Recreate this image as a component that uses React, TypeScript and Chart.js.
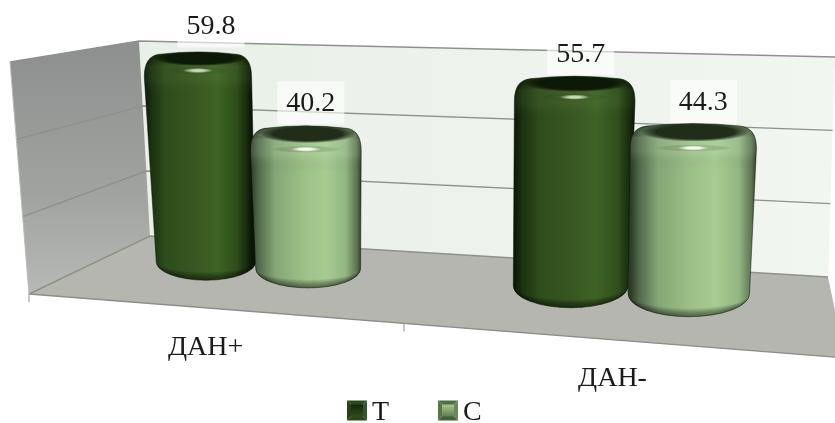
import React, { useEffect, useRef } from "react";
import { Chart, registerables } from "chart.js";

Chart.register(...registerables);

// Chart values
const categories = ["ДАН+", "ДАН-"];
const seriesNames = ["T", "C"];
const seriesT = [59.8, 55.7];
const seriesC = [40.2, 44.3];
const axisMax = 60;
const axisStep = 20;

// Box of the 3D scene on screen: floor and ceiling corners
const floorQuad = [[29, 294], [845, 358], [828, 277], [150, 236]];
const ceilingQuad = [[10, 62], [855, 86], [835, 57], [139, 41]];

// Where the cylinders sit in the box
const barDepth = 0.625;
const barDepthRadius = 0.32;
const heightSlope = 1.078;
const heightDrop = 0.115;
const groupShift = [-0.017, 0.002];
const groupSpread = [1.04, 1];
const middleTick = 0.51;

// Label offsets from the top of each cylinder, left to right
const labelDx = [13, 5, 6, 10];
const labelLift = [26, 23, 23, 22];

const FONT = '28px "Liberation Serif", "Times New Roman", serif';

type Pt = { x: number; y: number };

function quadMapper(q: number[][]) {
  const [[x0, y0], [x1, y1], [x2, y2], [x3, y3]] = q;
  const dx1 = x1 - x2, dx2 = x3 - x2, dy1 = y1 - y2, dy2 = y3 - y2;
  const sx = x0 - x1 + x2 - x3, sy = y0 - y1 + y2 - y3;
  const den = dx1 * dy2 - dx2 * dy1;
  const g = (sx * dy2 - dx2 * sy) / den;
  const h = (dx1 * sy - sx * dy1) / den;
  const a = x1 - x0 + g * x1, b = x3 - x0 + h * x3;
  const d = y1 - y0 + g * y1, e = y3 - y0 + h * y3;
  return (u: number, w: number): Pt => {
    const k = g * u + h * w + 1;
    return { x: (a * u + b * w + x0) / k, y: (d * u + e * w + y0) / k };
  };
}

const onFloor = quadMapper(floorQuad);
const onCeiling = quadMapper(ceilingQuad);

// u: along the category axis, w: depth (0 front, 1 back), v: height fraction
function project(u: number, w: number, v: number): Pt {
  const a = onFloor(u, w);
  const b = onCeiling(u, w);
  return { x: a.x + (b.x - a.x) * v, y: a.y + (b.y - a.y) * v };
}

function polygon(ctx: CanvasRenderingContext2D, pts: Pt[]) {
  ctx.beginPath();
  pts.forEach((p, i) => (i ? ctx.lineTo(p.x, p.y) : ctx.moveTo(p.x, p.y)));
  ctx.closePath();
}

function softEllipse(
  ctx: CanvasRenderingContext2D,
  cx: number,
  cy: number,
  rx: number,
  ry: number,
  stops: [number, string][]
) {
  ctx.save();
  ctx.translate(cx, cy);
  ctx.scale(rx, ry);
  const g = ctx.createRadialGradient(0, 0, 0, 0, 0, 1);
  stops.forEach(([o, c]) => g.addColorStop(o, c));
  ctx.fillStyle = g;
  ctx.beginPath();
  ctx.arc(0, 0, 1, 0, Math.PI * 2);
  ctx.fill();
  ctx.restore();
}

const palettes = [
  {
    body: [
      [0, "#0c1806"], [0.07, "#1c3210"], [0.2, "#2f4c1c"], [0.45, "#385621"],
      [0.68, "#3f6326"], [0.86, "#2f4e1c"], [0.96, "#16280c"], [1, "#0a1405"],
    ],
    band: "rgba(150,190,120,0.07)",
    cap: "#0c1907",
    glow: "rgba(215,238,195,0.85)",
    glowMid: "rgba(130,170,100,0.4)",
    swatch: ["#2d4a1d", "#35552a", "#2a4419", "#274219"],
    swatchCore: ["#132509", "#2f4d1d"],
  },
  {
    body: [
      [0, "#2b3a25"], [0.07, "#51684a"], [0.22, "#84a576"], [0.48, "#9cc088"],
      [0.68, "#a6cc92"], [0.86, "#93b583"], [0.96, "#5d7553"], [1, "#2f3e28"],
    ],
    band: "rgba(235,255,220,0.10)",
    cap: "#1f2d19",
    glow: "rgba(248,255,240,1)",
    glowMid: "rgba(220,245,200,0.6)",
    swatch: ["#4f6e42", "#6a8a5c", "#44603a", "#567549"],
    swatchCore: ["#a7c795", "#5f7f51"],
  },
];

function drawCylinder(
  ctx: CanvasRenderingContext2D,
  u: number,
  ru: number,
  v: number,
  pal: (typeof palettes)[number]
) {
  const w = barDepth, rw = barDepthRadius, h = v * heightSlope - heightDrop;
  const B = project(u, w, 0);
  const T = project(u, w, h);
  const rxB = (project(u + ru, w, 0).x - project(u - ru, w, 0).x) / 2;
  const ryB = (project(u, w - rw, 0).y - project(u, w + rw, 0).y) / 2;
  const rxT = ((project(u + ru, w, h).x - project(u - ru, w, h).x) / 2) * 1.03;
  const ryT = (project(u, w - rw, h).y - project(u, w + rw, h).y) / 2;
  const topY = T.y - ryT;
  const shoulderY = topY + 25;

  const silhouette = () => {
    ctx.beginPath();
    ctx.moveTo(B.x - rxB, B.y);
    ctx.ellipse(B.x, B.y, rxB, ryB, 0, Math.PI, 0, true);
    ctx.lineTo(T.x + rxT, shoulderY);
    ctx.bezierCurveTo(T.x + rxT, topY + 11, T.x + rxT - 5, topY + 4, T.x + rxT * 0.74, topY + 2.5);
    ctx.quadraticCurveTo(T.x, topY - 2.5, T.x - rxT * 0.74, topY + 2.5);
    ctx.bezierCurveTo(T.x - rxT + 5, topY + 4, T.x - rxT, topY + 11, T.x - rxT, shoulderY);
    ctx.closePath();
  };

  ctx.save();
  silhouette();
  const body = ctx.createLinearGradient(T.x - rxT, 0, T.x + rxT, 0);
  pal.body.forEach(([o, c]) => body.addColorStop(o as number, c as string));
  ctx.fillStyle = body;
  ctx.fill();

  ctx.clip();

  // rounded rim at the top of the cylinder
  const band = ctx.createLinearGradient(0, topY, 0, topY + 46);
  band.addColorStop(0, "rgba(0,0,0,0.55)");
  band.addColorStop(0.2, "rgba(0,0,0,0)");
  band.addColorStop(0.3, pal.band);
  band.addColorStop(0.62, pal.band);
  band.addColorStop(1, "rgba(0,0,0,0)");
  ctx.fillStyle = band;
  ctx.fillRect(T.x - rxT - 2, topY - 2, rxT * 2 + 4, 50);

  // flat end of the cylinder
  const capRy = ryT * 0.35 + 3.5;
  softEllipse(ctx, T.x + 2, topY + capRy + 0.5, rxT * 0.86, capRy + 1.5, [
    [0, pal.cap],
    [0.72, pal.cap],
    [1, "rgba(0,0,0,0)"],
  ]);

  // specular spot on the rim
  const glowY = T.y + 11.5;
  softEllipse(ctx, T.x, glowY, rxT * 0.62, 3.5, [
    [0, pal.glowMid],
    [1, "rgba(0,0,0,0)"],
  ]);
  softEllipse(ctx, T.x, glowY, 15, 2.6, [
    [0, pal.glow],
    [0.35, pal.glow],
    [1, "rgba(255,255,255,0)"],
  ]);

  // soft shade along the base, built from thin overlapping crescents
  for (let step = 1; step <= 8; step++) {
    ctx.beginPath();
    ctx.moveTo(B.x - rxB - 1, B.y);
    ctx.ellipse(B.x, B.y, rxB + 1, ryB + 1, 0, Math.PI, 0, true);
    ctx.ellipse(B.x, B.y, rxB + 1, Math.max(ryB - step, 1), 0, 0, Math.PI, false);
    ctx.closePath();
    ctx.fillStyle = "rgba(0,0,0,0.075)";
    ctx.fill();
  }
  ctx.restore();

  silhouette();
  ctx.strokeStyle = "rgba(10,20,5,0.5)";
  ctx.lineWidth = 1;
  ctx.stroke();

  return { x: T.x, top: topY };
}

function drawSwatch(
  ctx: CanvasRenderingContext2D,
  x: number,
  y: number,
  s: number,
  colors: string[],
  core: string[]
) {
  const i = 4;
  const q = [
    [x, y], [x + s, y], [x + s, y + s], [x, y + s],
  ];
  const c = [x + s / 2, y + s / 2];
  [0, 1, 2, 3].forEach((k) => {
    const a = q[k], b = q[(k + 1) % 4];
    ctx.beginPath();
    ctx.moveTo(a[0], a[1]);
    ctx.lineTo(b[0], b[1]);
    ctx.lineTo(c[0], c[1]);
    ctx.closePath();
    ctx.fillStyle = colors[k];
    ctx.fill();
  });
  const g = ctx.createLinearGradient(0, y + i, 0, y + s - i);
  g.addColorStop(0, core[0]);
  g.addColorStop(1, core[1]);
  ctx.fillStyle = g;
  ctx.fillRect(x + i, y + i, s - 2 * i, s - 2 * i);
}

const scenePlugin = {
  id: "scene3d",
  beforeDatasetsDraw(chart: any) {
    const ctx: CanvasRenderingContext2D = chart.ctx;
    const area = chart.chartArea;
    const xs = chart.scales.x;
    const ys = chart.scales.y;
    const frac = (value: number) =>
      (ys.bottom - ys.getPixelForValue(value)) / (ys.bottom - ys.top);

    // walls and floor
    polygon(ctx, [project(0, 1, 0), project(1, 1, 0), project(1, 1, 1), project(0, 1, 1)]);
    const back = ctx.createLinearGradient(140, 0, 835, 0);
    back.addColorStop(0, "#e9f0e8");
    back.addColorStop(1, "#f1f6f0");
    ctx.fillStyle = back;
    ctx.fill();

    polygon(ctx, [project(0, 0, 0), project(0, 1, 0), project(0, 1, 1), project(0, 0, 1)]);
    const side = ctx.createLinearGradient(0, 45, 0, 294);
    side.addColorStop(0, "#8d908e");
    side.addColorStop(0.6, "#a0a3a0");
    side.addColorStop(1, "#b6b9b5");
    ctx.fillStyle = side;
    ctx.fill();

    polygon(ctx, [project(0, 0, 0), project(1, 0, 0), project(1, 1, 0), project(0, 1, 0)]);
    ctx.fillStyle = "#b4b6af";
    ctx.fill();

    // gridlines along the side and back walls
    ctx.strokeStyle = "#8f918f";
    ctx.lineWidth = 1.4;
    ys.ticks.forEach((tick: any) => {
      const v = frac(tick.value);
      const a = project(0, 0, v), b = project(0, 1, v), c = project(1, 1, v);
      ctx.beginPath();
      ctx.moveTo(a.x, a.y);
      ctx.lineTo(b.x, b.y);
      ctx.lineTo(c.x, c.y);
      ctx.stroke();
    });

    // front edge and its tick marks
    ctx.strokeStyle = "#8c8e89";
    ctx.lineWidth = 1.3;
    const fl = project(0, 0, 0), fr = project(1, 0, 0);
    ctx.beginPath();
    ctx.moveTo(fl.x, fl.y);
    ctx.lineTo(fr.x, fr.y);
    ctx.stroke();
    ctx.strokeStyle = "#a8a8a8";
    [0, middleTick, 1].forEach((u) => {
      const p = project(u, 0, 0);
      ctx.beginPath();
      ctx.moveTo(p.x, p.y);
      ctx.lineTo(p.x, p.y + 8);
      ctx.stroke();
    });
    const lb = project(0, 0, 1);
    ctx.strokeStyle = "#b9bcb9";
    ctx.lineWidth = 1;
    ctx.beginPath();
    ctx.moveTo(lb.x, lb.y);
    ctx.lineTo(fl.x, fl.y);
    ctx.stroke();

    // cylinders, drawn left to right so each one overlaps the previous
    const width = area.right - area.left;
    const tops: { x: number; top: number; value: number }[] = [];
    categories.forEach((_, ci) => {
      const centre = (xs.getPixelForValue(ci) - area.left) / width;
      chart.data.datasets.forEach((ds: any, di: number) => {
        const el = chart.getDatasetMeta(di).data[ci];
        const offset = (el.x - area.left) / width - centre;
        const u = centre + groupShift[ci] + offset * groupSpread[ci];
        const ru = (el.width / width / 2) * groupSpread[ci];
        const v = (ys.bottom - el.y) / (ys.bottom - ys.top);
        const tip = drawCylinder(ctx, u, ru, v, palettes[di]);
        tops.push({ ...tip, value: ds.data[ci] });
      });
    });

    // value labels on their pale plates
    ctx.font = FONT;
    ctx.textAlign = "center";
    ctx.textBaseline = "middle";
    tops.forEach((t, i) => {
      const cx = t.x + labelDx[i], cy = t.top - labelLift[i];
      ctx.fillStyle = "rgba(255,255,255,0.62)";
      ctx.fillRect(cx - 33.5, cy - 21.5, 67, 43);
      ctx.fillStyle = "#1a1a1a";
      ctx.fillText(t.value.toFixed(1), cx, cy + 1);
    });

    // category labels under the front edge
    ctx.textBaseline = "alphabetic";
    categories.forEach((_, ci) => {
      const label = xs.getLabelForValue(ci);
      const u = (xs.getPixelForValue(ci) - area.left) / width;
      const p = project(u, 0, 0);
      ctx.fillStyle = "#1a1a1a";
      ctx.fillText(label, p.x + 2 + ci * 2, p.y + 47);
    });

    // legend
    ctx.textAlign = "left";
    const legendLeft = 347, legendBase = 420, box = 20;
    let x = legendLeft;
    chart.data.datasets.forEach((ds: any, di: number) => {
      drawSwatch(ctx, x, legendBase - box + 0.5, box, palettes[di].swatch, palettes[di].swatchCore);
      ctx.fillStyle = "#1a1a1a";
      ctx.fillText(ds.label, x + box + 5, legendBase);
      x += 91;
    });

    return false;
  },
};

export default function App() {
  const ref = useRef<HTMLCanvasElement>(null);
  useEffect(() => {
    const chart = new Chart(ref.current!, {
      type: "bar",
      data: {
        labels: categories,
        datasets: [
          { label: seriesNames[0], data: seriesT },
          { label: seriesNames[1], data: seriesC },
        ],
      },
      options: {
        animation: false,
        responsive: false,
        layout: { padding: 0 },
        categoryPercentage: 0.6,
        barPercentage: 1,
        plugins: { legend: { display: false }, tooltip: { enabled: false } },
        scales: {
          x: { display: false },
          y: { display: false, min: 0, max: axisMax, ticks: { stepSize: axisStep } },
        },
      } as any,
      plugins: [scenePlugin],
    });
    return () => chart.destroy();
  }, []);
  return (
    <div style={{ position: "fixed", left: 0, top: 0, width: 835, height: 423, background: "#fff" }}>
      <canvas ref={ref} width={835} height={423} style={{ display: "block" }} />
    </div>
  );
}
